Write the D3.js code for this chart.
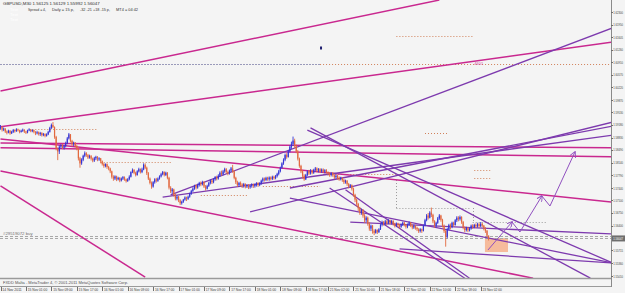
<!DOCTYPE html>
<html lang="en">
<head>
<meta charset="UTF-8">
<title>GBPUSD,M30</title>
<script src="https://cdn.jsdelivr.net/npm/d3@7"></script>
<style>
  body { margin: 0; background: #f4f4f4; overflow: hidden; }
  svg text { font-family: "Liberation Sans", Arial, sans-serif; }
</style>
</head>
<body>
<svg id="chart" width="625" height="293"></svg>
<script>
// M30 bars as [high, low, close] in pips above 1.5000, one array per trading day
const BASE = 1.5, PIP = 0.0001;
const firstOpen = 910;
const nov14 = [[918,905,912],[914,900,905],[911,901,908],[909,896,900],[903,892,897],[905,895,902],[904,891,895],[902,893,899],[907,896,904],[906,897,901],[909,899,906],[908,900,903],[905,895,899],[905,897,902]];
const nov15 = [[908,899,905],[906,896,900],[902,893,897],[905,895,903],[909,901,906],[907,898,901],[906,898,904],[905,895,899],[901,890,895],[902,892,898],[900,889,893],[899,888,896],[898,886,890],[896,887,893],[895,884,888],[895,886,892],[902,890,899],[913,897,910],[922,907,918],[926,909,912],[914,880,885],[888,848,852],[856,821,845],[862,838,858],[866,852,862],[866,851,855],[864,850,860],[872,856,868],[885,865,881],[896,878,892],[893,870,874],[877,860,865],[872,859,869],[871,856,860],[863,848,852],[855,820,826],[830,800,812],[826,808,822],[836,818,833],[845,829,840],[843,830,835],[838,824,828],[836,825,832],[835,820,825],[828,815,820],[830,816,826],[833,821,830],[832,818,823]];
const nov16 = [[829,819,826],[827,812,818],[820,806,810],[813,800,805],[812,801,810],[812,797,802],[805,793,798],[800,785,790],[792,770,775],[779,764,770],[779,766,776],[778,763,768],[775,765,772],[774,760,765],[773,762,770],[777,766,774],[776,764,768],[770,759,763],[771,761,768],[779,765,775],[790,773,788],[798,785,794],[796,782,786],[789,776,780],[793,778,790],[800,787,796],[798,784,788],[800,785,795],[812,793,808],[812,796,800],[803,780,785],[788,766,770],[773,754,758],[762,742,748],[763,745,760],[771,756,768],[772,759,764],[773,761,770],[779,767,776],[786,773,782],[791,779,788],[790,776,780],[789,777,786],[788,768,772],[775,740,745],[749,730,735],[744,728,740],[742,720,725]];
const nov17 = [[728,710,715],[724,710,720],[722,705,710],[713,697,702],[709,698,706],[714,703,712],[721,709,718],[720,708,714],[723,711,720],[731,717,728],[739,725,736],[746,733,742],[753,739,750],[754,740,745],[756,742,752],[761,748,758],[762,749,754],[764,751,760],[763,744,748],[752,737,742],[753,740,750],[761,747,758],[768,754,765],[767,755,760],[771,757,768],[777,764,774],[778,765,770],[782,767,778],[790,775,786],[792,778,782],[794,779,790],[800,786,796],[799,784,788],[792,779,784],[795,781,792],[802,788,798],[808,786,790],[793,768,772],[775,755,760],[764,747,752],[761,748,758],[762,749,754],[757,744,750],[758,745,755],[757,743,748],[755,744,752],[755,741,746],[753,742,750]];
const nov18 = [[757,745,754],[756,744,749],[756,745,753],[760,748,758],[760,747,752],[760,749,757],[767,753,764],[773,760,770],[773,762,766],[775,763,772],[775,764,768],[776,764,773],[776,765,769],[778,766,775],[778,767,771],[780,768,777],[786,773,783],[794,779,790],[803,787,800],[815,797,812],[826,808,822],[839,818,835],[840,825,830],[849,828,845],[862,842,858],[872,852,866],[886,860,875],[880,855,860],[864,840,845],[849,820,825],[828,800,805],[808,785,790],[794,770,778],[782,764,768],[783,766,780],[793,777,790],[794,780,784],[796,781,792],[795,782,786],[797,783,794],[802,789,798],[801,788,792],[799,787,796],[799,786,790],[798,786,795],[798,785,789],[796,784,793],[796,784,788]];
const nov21 = [[790,778,784],[787,775,780],[788,776,785],[788,775,779],[782,769,774],[781,770,778],[780,767,772],[776,764,768],[775,765,772],[774,761,766],[769,755,760],[767,756,764],[766,750,755],[758,743,748],[755,744,752],[754,737,742],[745,720,725],[728,705,712],[715,694,700],[703,680,688],[692,670,676],[687,670,683],[686,662,668],[672,648,655],[666,650,662],[665,640,645],[649,626,632],[643,625,640],[642,618,626],[630,614,620],[631,618,628],[630,617,622],[633,620,630],[645,628,642],[654,638,650],[653,640,645],[656,641,652],[655,642,647],[658,644,655],[657,644,648],[656,643,653],[655,640,645],[648,635,640],[649,636,646]];
const nov22 = [[648,636,641],[645,632,637],[646,634,643],[651,639,648],[650,638,642],[645,632,637],[646,633,643],[652,639,648],[650,636,640],[643,630,635],[643,631,640],[642,629,634],[637,625,630],[633,620,625],[633,621,630],[632,620,626],[643,624,640],[659,638,655],[672,652,668],[675,657,662],[680,660,676],[690,664,670],[673,647,652],[655,634,640],[651,636,648],[664,645,660],[672,656,668],[670,651,656],[659,635,640],[643,620,625],[628,582,610],[634,605,630],[645,627,642],[646,630,636],[651,633,648],[651,637,642],[658,640,655],[666,650,662],[666,652,658],[668,654,664],[666,645,650],[653,630,635],[638,622,628],[637,624,634],[636,622,627],[635,624,632],[643,629,640],[644,631,636]];
const nov23 = [[645,633,642],[646,634,638],[648,635,644],[647,634,639],[650,636,645],[648,636,640],[642,627,632],[636,620,626],[628,608,612.5],[612.9,599.2,604.7]];

// price scale labels (right side) and current bid
const priceTicks = ["1.62300","1.61950","1.61605","1.61260","1.60910","1.60570","1.60220","1.59870","1.59530","1.59180","1.58830","1.58490","1.58140","1.57790","1.57440","1.57100","1.56750","1.56400","1.55715","1.55360","1.55010"];
const bidPrice = 1.56047;
const orderPrice = 1.56114;

// time axis labels and the bar index they sit on
const timeLabels = ["14 Nov 2011","15 Nov 01:00","15 Nov 09:00","15 Nov 17:00","16 Nov 01:00","16 Nov 09:00","16 Nov 17:00","17 Nov 01:00","17 Nov 09:00","17 Nov 17:00","18 Nov 01:00","18 Nov 09:00","18 Nov 17:00","21 Nov 02:00","21 Nov 10:00","21 Nov 18:00","22 Nov 02:00","22 Nov 10:00","22 Nov 18:00","23 Nov 02:00"];
const timeLabelBars = [0,16,32,48,64,80,96,112,128,144,160,176,192,206,222,238,254,270,286,302];

// trend lines [bar1, price1, bar2, price2]
const magentaLines = [[0,1.6012,276,1.6263],[0,1.5913,385,1.6147],[0,1.5868,385,1.5855],[0,1.5855,385,1.5830],[0,1.5879,385,1.5705],[0,1.5791,335,1.5495],[0,1.5750,91,1.5498]];
const purpleLines = [[107,1.5725,385,1.6186],[102,1.5719,385,1.5890],[157,1.5678,385,1.5926],[182,1.5744,385,1.5915],[193,1.5904,385,1.5537],[195,1.5910,371,1.5495],[207,1.5744,292,1.5495],[217,1.5739,295,1.5495],[182,1.5716,385,1.5537],[220,1.5650,385,1.5617],[251,1.5576,385,1.5537]];

// dotted levels [bar1, bar2, price]
const navyLevels = [[0,201,1.60865]];
const orangeLevels = [[201,385,1.60865],[249,297,1.61638],[20,61,1.59069],[63,108,1.58158],[126,155,1.57247],[165,201,1.57495],[203,251,1.57827],[267,281,1.58959],[298,308,1.57937],[298,308,1.57716]];
const grayLevels = [[249,295,1.56888],[297,344,1.56501]];
const grayVerticals = [[249,1.5766,1.56888],[297,1.56888,1.56501]];

// projected path (bar, price) and target zone
const pathBars = [306.6,321.7,326.7,340.5,345.6,361.3];
const pathPrices = [1.55728,1.56501,1.56225,1.57219,1.56943,1.58434];
const zone = [304.7,319.2,1.56059,1.55672];

const W = 625, H = 293, plotR = 611, plotB = 278;
const svg = d3.select("#chart");

const bars = [nov14,nov15,nov16,nov17,nov18,nov21,nov22,nov23].flat().map((b, i, arr) => ({
  i: i,
  h: BASE + b[0] * PIP,
  l: BASE + b[1] * PIP,
  c: BASE + b[2] * PIP,
  o: BASE + (i === 0 ? firstOpen : arr[i - 1][2]) * PIP
}));

const x = d3.scaleLinear().domain([0, 307]).range([0.5, 488.6]);
const y = d3.scaleLinear().domain([1.5501, 1.623]).range([276, 12]);

svg.append("rect").attr("width", W).attr("height", H).attr("fill", "#f4f4f4");
svg.append("defs").append("clipPath").attr("id", "plot")
  .append("rect").attr("width", plotR).attr("height", plotB);
svg.select("defs").append("marker").attr("id", "arr")
  .attr("viewBox", "0 0 8 8").attr("refX", 7).attr("refY", 4)
  .attr("markerWidth", 6).attr("markerHeight", 6).attr("orient", "auto")
  .append("path").attr("d", "M0,0L8,4L0,8").attr("fill", "none")
  .attr("stroke", "#9050c0").attr("stroke-width", 1.2);

const g = svg.append("g").attr("clip-path", "url(#plot)");

// zone box
g.append("rect")
  .attr("x", x(zone[0])).attr("width", x(zone[1]) - x(zone[0]))
  .attr("y", y(zone[2])).attr("height", y(zone[3]) - y(zone[2]))
  .attr("fill", "#f6b08c").attr("opacity", 0.85);

// dotted levels
function levels(data, color) {
  g.selectAll(null).data(data).join("line")
    .attr("x1", d => x(d[0])).attr("x2", d => x(d[1]))
    .attr("y1", d => Math.round(y(d[2])) + 0.5).attr("y2", d => Math.round(y(d[2])) + 0.5)
    .attr("stroke", color).attr("stroke-width", 1).attr("stroke-dasharray", "1,2");
}
levels(navyLevels, "#404080");
levels(orangeLevels, "#d0805a");
levels(grayLevels, "#9a9a9a");
g.selectAll(null).data(grayVerticals).join("line")
  .attr("x1", d => Math.round(x(d[0])) + 0.5).attr("x2", d => Math.round(x(d[0])) + 0.5)
  .attr("y1", d => y(d[1])).attr("y2", d => y(d[2]))
  .attr("stroke", "#9a9a9a").attr("stroke-dasharray", "1,2");

// bid and order lines
[orderPrice, bidPrice].forEach(p => {
  g.append("line").attr("x1", 0).attr("x2", plotR)
    .attr("y1", Math.round(y(p)) + 0.5).attr("y2", Math.round(y(p)) + 0.5)
    .attr("stroke", "#a8a8a8").attr("stroke-dasharray", "3,2");
});
g.append("text").attr("x", 3).attr("y", y(orderPrice) - 1.5)
  .attr("font-size", 4.3).attr("fill", "#707070").text("#29519072 buy");

// trend lines
function trend(data, color, w) {
  g.selectAll(null).data(data).join("line")
    .attr("x1", d => x(d[0])).attr("y1", d => y(d[1]))
    .attr("x2", d => x(d[2])).attr("y2", d => y(d[3]))
    .attr("stroke", color).attr("stroke-width", w);
}
trend(magentaLines, "#c9288f", 1.5);
trend(purpleLines, "#7d3aae", 1.3);

// candles
const up = "#3434d6", down = "#e2683e";
g.selectAll(".wick").data(bars).join("line").attr("class", "wick")
  .attr("x1", d => x(d.i)).attr("x2", d => x(d.i))
  .attr("y1", d => y(d.h)).attr("y2", d => y(d.l))
  .attr("stroke", d => d.c >= d.o ? up : down).attr("stroke-width", 0.9);
g.selectAll(".body").data(bars).join("rect").attr("class", "body")
  .attr("x", d => x(d.i) - 0.6).attr("width", 1.2)
  .attr("y", d => y(Math.max(d.o, d.c)))
  .attr("height", d => Math.max(0.8, Math.abs(y(d.o) - y(d.c))))
  .attr("fill", d => d.c >= d.o ? up : down);

// projected path
const pts = pathBars.map((b, k) => [x(b), y(pathPrices[k])]);
d3.pairs(pts).forEach((s, k) => {
  g.append("line").attr("x1", s[0][0]).attr("y1", s[0][1])
    .attr("x2", s[1][0]).attr("y2", s[1][1])
    .attr("stroke", "#9050c0").attr("stroke-width", 1)
    .attr("marker-end", k % 2 === 0 ? "url(#arr)" : null);
});

// small chart objects
g.append("rect").attr("x", x(201.6) - 1).attr("y", y(1.61306) - 1.5)
  .attr("width", 2).attr("height", 3).attr("fill", "#202070");
g.append("text").attr("x", x(298)).attr("y", y(1.6088) + 1.5)
  .attr("font-size", 4).attr("fill", "#d040a0").text("4601");

// header texts
svg.append("text").attr("x", 3).attr("y", 5).attr("font-size", 4.4).attr("fill", "#303030")
  .text("GBPUSD,M30  1.56125 1.56129 1.55992 1.56047");
[["Text", 10, 10.5], ["Text", 10, 15.5], ["Text", 10, 20.5]].forEach(t =>
  svg.append("text").attr("x", t[1]).attr("y", t[2]).attr("font-size", 4.4).attr("fill", "#ffffff").text(t[0]));
[["Spread = 4,", 28, 18], ["Daily   = 15 p,", 52, 22], ["-32 -21 +18 -15 p,", 80, 30], ["MT4   = 04:42", 116, 22]].forEach(t =>
  svg.append("text").attr("x", t[1]).attr("y", 10.5).attr("font-size", 4.4).attr("fill", "#303030")
    .attr("textLength", t[2]).attr("lengthAdjust", "spacingAndGlyphs").text(t[0]));

// frame
svg.append("line").attr("x1", plotR + 0.5).attr("x2", plotR + 0.5).attr("y1", 0).attr("y2", 287)
  .attr("stroke", "#8a8a8a");
svg.append("line").attr("x1", 0).attr("x2", plotR).attr("y1", plotB + 0.5).attr("y2", plotB + 0.5)
  .attr("stroke", "#9a9a9a").attr("stroke-width", 1.5);
svg.append("line").attr("x1", 0).attr("x2", plotR).attr("y1", 286.5).attr("y2", 286.5)
  .attr("stroke", "#9a9a9a");
svg.append("text").attr("x", 3).attr("y", 284).attr("font-size", 4).attr("fill", "#505050")
  .text("FXDD Malta - MetaTrader 4, \u00a9 2001-2011 MetaQuotes Software Corp.");

// price axis
const ax = svg.append("g");
ax.selectAll("line").data(priceTicks).join("line")
  .attr("x1", plotR).attr("x2", plotR + 2)
  .attr("y1", d => Math.round(y(+d)) + 0.5).attr("y2", d => Math.round(y(+d)) + 0.5)
  .attr("stroke", "#707070");
ax.selectAll("text").data(priceTicks).join("text")
  .attr("x", plotR + 2.3).attr("y", d => y(+d) + 1.5)
  .attr("font-size", 4).attr("fill", "#404040")
  .attr("textLength", 9.8).attr("lengthAdjust", "spacingAndGlyphs").text(d => d);
svg.append("rect").attr("x", plotR + 1).attr("y", y(bidPrice) - 3).attr("width", 13).attr("height", 6)
  .attr("fill", "#6e6e6e");
svg.append("text").attr("x", plotR + 2.3).attr("y", y(bidPrice) + 1.5).attr("font-size", 4)
  .attr("fill", "#ffffff").attr("textLength", 9.8).attr("lengthAdjust", "spacingAndGlyphs")
  .text(bidPrice.toFixed(5));

// time axis
const tx = svg.append("g");
tx.selectAll("line").data(timeLabelBars).join("line")
  .attr("x1", d => Math.round(x(d)) + 0.5).attr("x2", d => Math.round(x(d)) + 0.5)
  .attr("y1", 287).attr("y2", 291).attr("stroke", "#707070");
tx.selectAll("text").data(timeLabels).join("text")
  .attr("x", (d, k) => x(timeLabelBars[k]) + 1.8).attr("y", 290.5)
  .attr("font-size", 4.2).attr("fill", "#404040")
  .attr("textLength", 19.5).attr("lengthAdjust", "spacingAndGlyphs").text(d => d);
</script>
</body>
</html>
